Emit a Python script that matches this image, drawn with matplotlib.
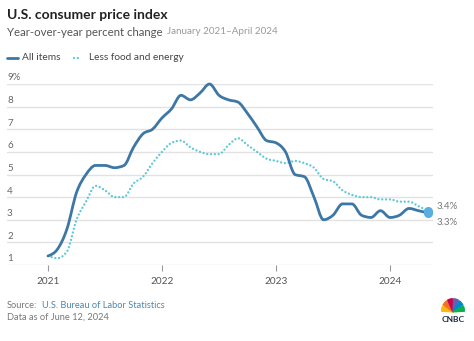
import numpy as np
import matplotlib.pyplot as plt
from matplotlib.lines import Line2D
from matplotlib.patches import Wedge, PathPatch
from matplotlib.path import Path

# -------------------- DATA --------------------
# monthly, Jan 2021 .. May 2024
all_items = [1.4, 1.7, 2.6, 4.2, 5.0, 5.4, 5.4, 5.3, 5.4, 6.2, 6.8, 7.0,
             7.5, 7.9, 8.5, 8.3, 8.6, 9.0, 8.5, 8.3, 8.2, 7.7, 7.1, 6.5,
             6.4, 6.0, 5.0, 4.9, 4.0, 3.0, 3.2, 3.7, 3.7, 3.2, 3.1, 3.4,
             3.1, 3.2, 3.5, 3.4, 3.3]
core = [1.4, 1.3, 1.6, 3.0, 3.8, 4.5, 4.3, 4.0, 4.0, 4.6, 4.9, 5.5,
        6.0, 6.4, 6.5, 6.2, 6.0, 5.9, 5.9, 6.3, 6.6, 6.3, 6.0, 5.7,
        5.6, 5.5, 5.6, 5.5, 5.3, 4.8, 4.7, 4.3, 4.1, 4.0, 4.0, 3.9,
        3.9, 3.8, 3.8, 3.6, 3.4]
months = np.arange(len(all_items))
year_ticks = [0, 12, 24, 36]
year_labels = ["2021", "2022", "2023", "2024"]
y_ticks = [1, 2, 3, 4, 5, 6, 7, 8, 9]
y_labels = ["1", "2", "3", "4", "5", "6", "7", "8", "9%"]

# -------------------- STYLE --------------------
plt.rcParams["font.family"] = ["Lato", "DejaVu Sans"]
c_all = "#3d77a5"
c_core = "#5cc8d8"
c_dot = "#5aaee0"
grid_c = "#e2e2e2"

W, H = 474, 341
fig = plt.figure(figsize=(W / 100, H / 100), dpi=100)

def fx(px):
    return px / W

def fy(py):
    return 1 - py / H

# smooth monotone curve (like d3.curveMonotoneX) as a bezier path
def monotone_path(x, y):
    x = np.asarray(x, float)
    y = np.asarray(y, float)
    h = np.diff(x)
    s = np.diff(y) / h
    t = np.zeros(len(x))
    for i in range(1, len(x) - 1):
        p = (s[i - 1] * h[i] + s[i] * h[i - 1]) / (h[i - 1] + h[i])
        t[i] = (np.sign(s[i - 1]) + np.sign(s[i])) * min(abs(s[i - 1]), abs(s[i]), 0.5 * abs(p))
    t[0] = (3 * s[0] - t[1]) / 2
    t[-1] = (3 * s[-1] - t[-2]) / 2
    verts = [(x[0], y[0])]
    codes = [Path.MOVETO]
    for i in range(len(x) - 1):
        d = h[i] / 3
        verts += [(x[i] + d, y[i] + d * t[i]), (x[i + 1] - d, y[i + 1] - d * t[i + 1]),
                  (x[i + 1], y[i + 1])]
        codes += [Path.CURVE4] * 3
    return Path(verts, codes)

ax = fig.add_axes([fx(7), fy(265), fx(433) - fx(7), fy(84) - fy(265)])
ax.set_xlim((7 - 48) / 9.5, (433 - 48) / 9.5)
ax.set_ylim(1, 9)
for s in ax.spines.values():
    s.set_visible(False)

for v, lab in zip(y_ticks, y_labels):
    ax.axhline(v, color=grid_c, lw=1.0, zorder=0)
    ax.text(0, v + 0.07, lab, transform=ax.get_yaxis_transform(),
            ha="left", va="bottom", fontsize=7, color="#666666")
ax.set_yticks([])

ax.set_xticks(year_ticks)
ax.set_xticklabels(year_labels, fontsize=7.2, color="#555555")
ax.tick_params(axis="x", length=4, width=0.8, color="#999999", pad=5)

ax.add_patch(PathPatch(monotone_path(months, all_items), fill=False, edgecolor=c_all,
                       lw=2.0, joinstyle="round", capstyle="round", clip_on=False,
                       zorder=3))
ax.add_patch(PathPatch(monotone_path(months, core), fill=False, edgecolor=c_core,
                       lw=1.7, linestyle=(0, (0.01, 1.6)), capstyle="round",
                       clip_on=False, zorder=2))
ax.plot(months[-1], core[-1], "o", color=c_dot, ms=5.5, clip_on=False, zorder=4)
ax.plot(months[-1], all_items[-1], "o", color=c_dot, ms=5.5, clip_on=False, zorder=4)

ax.annotate(f"{core[-1]}%", (months[-1], core[-1]), xytext=(6, 3),
            textcoords="offset points", fontsize=7, color="#777777",
            va="center", annotation_clip=False)
ax.annotate(f"{all_items[-1]}%", (months[-1], all_items[-1]), xytext=(6, -7),
            textcoords="offset points", fontsize=7, color="#777777",
            va="center", annotation_clip=False)

# -------------------- TITLES & LEGEND --------------------
fig.text(fx(7), fy(15), "U.S. consumer price index", fontsize=10,
         fontweight="bold", color="#222222", va="center")
fig.text(fx(7), fy(32), "Year-over-year percent change", fontsize=8.2,
         color="#555555", va="center")
fig.text(fx(167), fy(32), "January 2021\u2013April 2024", fontsize=7.1,
         color="#9a9a9a", va="center")

fig.add_artist(Line2D([fx(7), fx(18)], [fy(58), fy(58)], color=c_all, lw=2.0,
                      solid_capstyle="round"))
fig.text(fx(22), fy(58), "All items", fontsize=7.3, color="#444444", va="center")
fig.add_artist(Line2D([fx(74), fx(81)], [fy(58), fy(58)], color=c_core, lw=1.7,
                      linestyle=(0, (0.01, 1.6)), dash_capstyle="round"))
fig.text(fx(89), fy(58), "Less food and energy", fontsize=7.3, color="#444444",
         va="center")

# -------------------- FOOTER --------------------
fig.text(fx(7), fy(306), "Source:", fontsize=6.7, color="#777777", va="center")
fig.text(fx(41.5), fy(306), "U.S. Bureau of Labor Statistics", fontsize=6.7,
         color="#4a86b5", va="center")
fig.text(fx(7), fy(317), "Data as of June 12, 2024", fontsize=6.7,
         color="#777777", va="center")

# CNBC peacock
lax = fig.add_axes([fx(441), fy(313), fx(24), fy(297) - fy(313)])
lax.set_xlim(-1.2, 1.2)
lax.set_ylim(-0.1, 1.3)
lax.axis("off")
feather_cols = ["#fcb711", "#f37021", "#cc004c", "#6460aa", "#0089d0", "#0db14b"]
for i, col in enumerate(feather_cols):
    a0 = 180 - (i + 1) * 30 + 3
    lax.add_patch(Wedge((0, 0), 1.15, a0, a0 + 24, color=col))
fig.text(fx(453), fy(319), "CNBC", fontsize=6, fontweight="bold",
         color="#1a2a44", ha="center", va="center")

fig.savefig("out.png", dpi=100, facecolor="white")
